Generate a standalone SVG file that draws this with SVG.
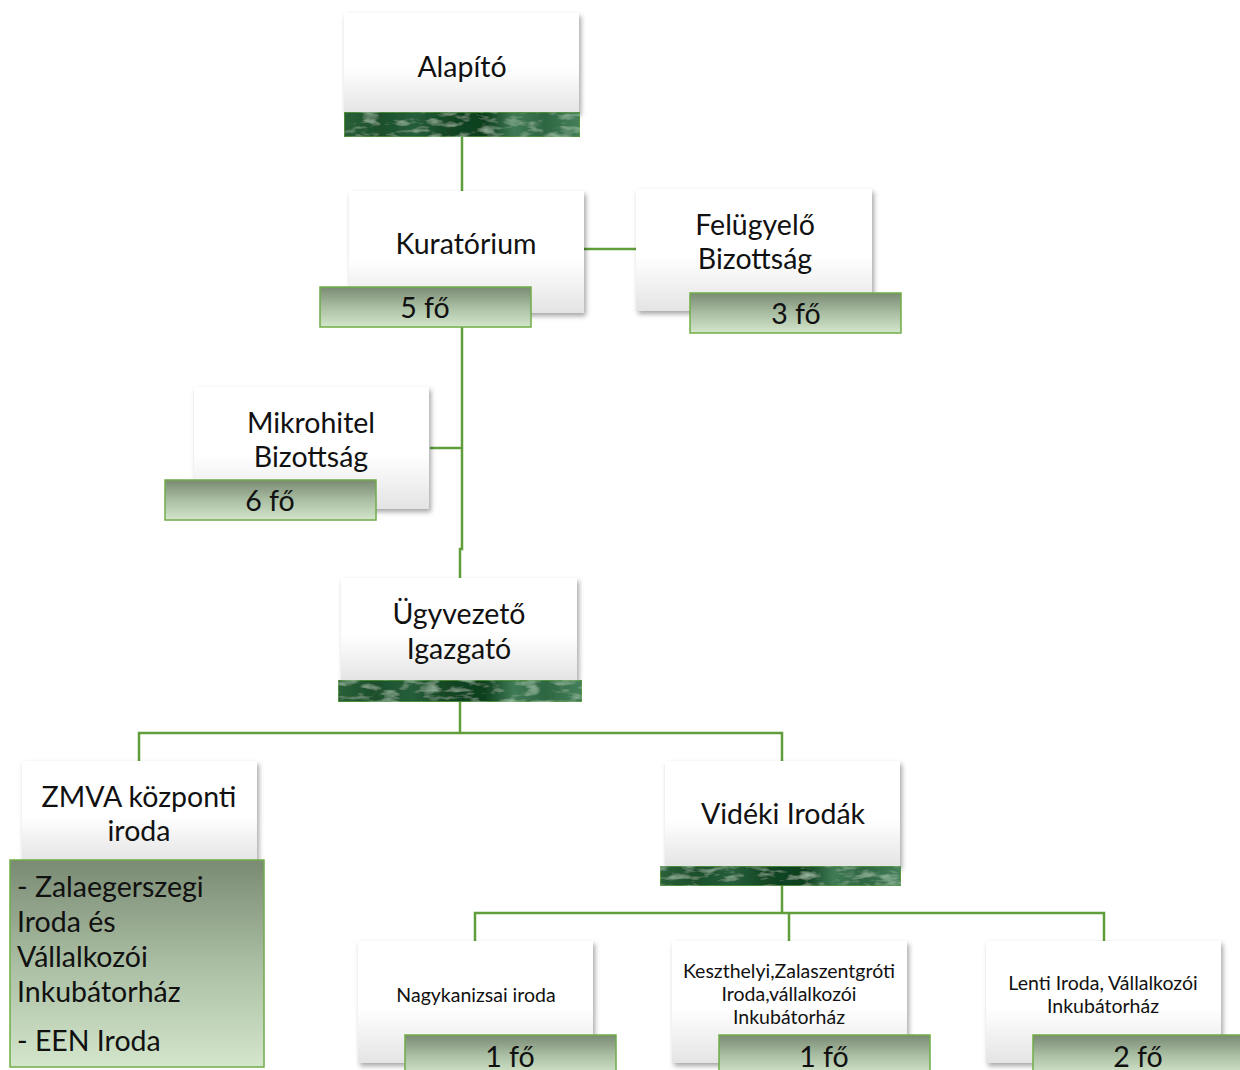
<svg xmlns="http://www.w3.org/2000/svg" width="1240" height="1070" viewBox="0 0 1240 1070">
<defs>
<linearGradient id="box" x1="0" y1="0" x2="0" y2="1">
<stop offset="0" stop-color="#ffffff"/><stop offset="0.55" stop-color="#ffffff"/><stop offset="1" stop-color="#e4e4e4"/>
</linearGradient>
<linearGradient id="badge" x1="0" y1="0" x2="0" y2="1">
<stop offset="0" stop-color="#7a8a74"/><stop offset="0.5" stop-color="#a9bea2"/><stop offset="1" stop-color="#d4e6cc"/>
</linearGradient>
<linearGradient id="marble" x1="0" y1="0" x2="1" y2="0">
<stop offset="0" stop-color="#2a6038"/><stop offset="0.15" stop-color="#1a4f2b"/><stop offset="0.3" stop-color="#255e3a"/><stop offset="0.45" stop-color="#124522"/><stop offset="0.6" stop-color="#0e401e"/><stop offset="0.72" stop-color="#3f7a55"/><stop offset="0.85" stop-color="#2d6642"/><stop offset="1" stop-color="#44805a"/>
</linearGradient>
<filter id="sh" x="-10%" y="-10%" width="125%" height="130%">
<feDropShadow dx="2" dy="3" stdDeviation="2.5" flood-color="#000" flood-opacity="0.35"/>
</filter>
<filter id="tex" x="0" y="0" width="100%" height="100%">
<feTurbulence type="fractalNoise" baseFrequency="0.05 0.15" numOctaves="3" seed="7" result="n"/>
<feColorMatrix in="n" type="matrix" values="0 0 0 0 0.55  0 0 0 0 0.8  0 0 0 0 0.6  0 0 0 1.2 -0.6" result="c"/>
<feComposite in="c" in2="SourceGraphic" operator="in" result="m"/>
<feMerge><feMergeNode in="SourceGraphic"/><feMergeNode in="m"/></feMerge>
</filter>
</defs>
<style>
.box{fill:url(#box);filter:url(#sh)}
.bar{fill:url(#marble);stroke:#5a9a3c;stroke-width:1.5}
.badge{fill:url(#badge);stroke:#70ad47;stroke-width:1.5}
.t{font-family:Lato,"Open Sans","Liberation Sans",sans-serif;fill:#111;text-anchor:middle}
.l{font-size:28.5px}
.s{font-size:19.5px}
.a{text-anchor:start}
.c{fill:none;stroke:#5f9e3a;stroke-width:2.5}
</style>
<g id="connectors">
<path class="c" d="M462 137V191"/>
<path class="c" d="M584 249H636"/>
<path class="c" d="M462 327V549H460V578"/>
<path class="c" d="M430 448H462"/>
<path class="c" d="M460 702V733M139 761V733H782V761"/>
<path class="c" d="M782 886V913M475 941V913H1104V941M789 913V941"/>
</g>
<g id="alapito">
<rect class="box" x="344" y="13" width="235" height="100"/>
<rect class="bar" x="344" y="112" width="236" height="25" filter="url(#tex)"/>
<text class="t l" x="462" y="77">Alapító</text>
</g>
<g id="kuratorium">
<rect class="box" x="349" y="191" width="235" height="122"/>
<text class="t l" x="466" y="254">Kuratórium</text>
<rect class="badge" x="320" y="287" width="211" height="40"/>
<text class="t l" x="425" y="318">5 fő</text>
</g>
<g id="felugyelo">
<rect class="box" x="636" y="189" width="236" height="122"/>
<text class="t l" x="755" y="235">Felügyelő</text>
<text class="t l" x="755" y="269">Bizottság</text>
<rect class="badge" x="690" y="293" width="211" height="40"/>
<text class="t l" x="796" y="324">3 fő</text>
</g>
<g id="mikrohitel">
<rect class="box" x="194" y="387" width="235" height="122"/>
<text class="t l" x="311" y="433">Mikrohitel</text>
<text class="t l" x="311" y="467">Bizottság</text>
<rect class="badge" x="165" y="480" width="211" height="40"/>
<text class="t l" x="270" y="511">6 fő</text>
</g>
<g id="ugyvezeto">
<rect class="box" x="341" y="578" width="236" height="103"/>
<rect class="bar" x="338" y="680" width="244" height="22" filter="url(#tex)"/>
<text class="t l" x="459" y="624">Ügyvezető</text>
<text class="t l" x="459" y="659">Igazgató</text>
</g>
<g id="zmva">
<rect class="box" x="22" y="761" width="235" height="100"/>
<text class="t l" x="139" y="807">ZMVA központi</text>
<text class="t l" x="139" y="841">iroda</text>
<rect class="badge" x="10" y="860" width="254" height="207"/>
<text class="t l a" x="17" y="897">- Zalaegerszegi</text>
<text class="t l a" x="17" y="932">Iroda és</text>
<text class="t l a" x="17" y="967">Vállalkozói</text>
<text class="t l a" x="17" y="1002">Inkubátorház</text>
<text class="t l a" x="17" y="1051">- EEN Iroda</text>
</g>
<g id="videki">
<rect class="box" x="665" y="761" width="235" height="106"/>
<rect class="bar" x="660" y="866" width="241" height="20" filter="url(#tex)"/>
<text class="t l" x="783" y="824">Vidéki Irodák</text>
</g>
<g id="nagykanizsa">
<rect class="box" x="358" y="941" width="235" height="122"/>
<text class="t s" x="476" y="1002">Nagykanizsai iroda</text>
<rect class="badge" x="405" y="1035" width="211" height="40"/>
<text class="t l" x="510" y="1067">1 fő</text>
</g>
<g id="keszthely">
<rect class="box" x="672" y="941" width="235" height="122"/>
<text class="t s" x="789" y="978">Keszthelyi,Zalaszentgróti</text>
<text class="t s" x="789" y="1001">Iroda,vállalkozói</text>
<text class="t s" x="789" y="1024">Inkubátorház</text>
<rect class="badge" x="719" y="1035" width="211" height="40"/>
<text class="t l" x="824" y="1067">1 fő</text>
</g>
<g id="lenti">
<rect class="box" x="986" y="941" width="235" height="122"/>
<text class="t s" x="1103" y="990">Lenti Iroda, Vállalkozói</text>
<text class="t s" x="1103" y="1013">Inkubátorház</text>
<rect class="badge" x="1033" y="1035" width="211" height="40"/>
<text class="t l" x="1138" y="1067">2 fő</text>
</g>
</svg>
